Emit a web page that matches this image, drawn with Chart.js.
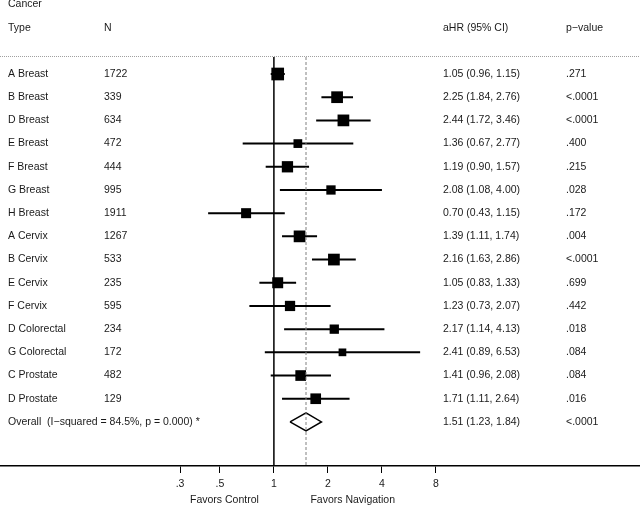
<!DOCTYPE html>
<html>
<head>
<meta charset="utf-8">
<script src="https://cdn.jsdelivr.net/npm/chart.js@4/dist/chart.umd.min.js"></script>
<style>
  body { margin: 0; background: #fff; }
</style>
</head>
<body>
<canvas id="forest" width="640" height="506"></canvas>
<script>
const estudios = ['A Breast', 'B Breast', 'D Breast', 'E Breast', 'F Breast', 'G Breast', 'H Breast',
  'A Cervix', 'B Cervix', 'E Cervix', 'F Cervix', 'D Colorectal', 'G Colorectal', 'C Prostate', 'D Prostate'];
const n = [1722, 339, 634, 472, 444, 995, 1911, 1267, 533, 235, 595, 234, 172, 482, 129];
const hr = [1.05, 2.25, 2.44, 1.36, 1.19, 2.08, 0.70, 1.39, 2.16, 1.05, 1.23, 2.17, 2.41, 1.41, 1.71];
const ciLow = [0.96, 1.84, 1.72, 0.67, 0.90, 1.08, 0.43, 1.11, 1.63, 0.83, 0.73, 1.14, 0.89, 0.96, 1.11];
const ciHigh = [1.15, 2.76, 3.46, 2.77, 1.57, 4.00, 1.15, 1.74, 2.86, 1.33, 2.07, 4.13, 6.53, 2.08, 2.64];
const pValues = ['.271', '<.0001', '<.0001', '.400', '.215', '.028', '.172', '.004', '<.0001', '.699', '.442', '.018', '.084', '.084', '.016'];
const pesos = [9.5, 8.1, 8.1, 4.5, 7.5, 5.1, 5.9, 8.1, 8.1, 7.1, 6.2, 5.1, 3.5, 6.7, 6.7];

const overallLabel = 'Overall  (I\u2212squared = 84.5%, p = 0.000) *';
const overall = [1.51, 1.23, 1.84];
const overallP = '<.0001';

const xTicks = [0.3, 0.5, 1, 2, 4, 8];
const xTickLabels = ['.3', '.5', '1', '2', '4', '8'];

// ---------------------------------------------------------------
const filaOverall = estudios.length;
const yMin = -0.733;
const yMax = 16.9;
const fuente = '10.5px "Liberation Sans", Arial, sans-serif';
const colorTexto = '#1a1a1a';

const cuadrados = hr.map((v, i) => ({ x: v, y: i }));
const radios = pesos.map(w => 4.12 * Math.sqrt(w) / Math.SQRT2);

const intervalos = [];
hr.forEach((v, i) => {
  intervalos.push({ x: ciLow[i], y: i }, { x: ciHigh[i], y: i }, { x: ciHigh[i], y: null });
});

const alto = 0.39;
const diamante = [
  { x: overall[1], y: filaOverall },
  { x: overall[0], y: filaOverall - alto },
  { x: overall[2], y: filaOverall },
  { x: overall[0], y: filaOverall + alto },
  { x: overall[1], y: filaOverall }
];

const textos = {
  id: 'textos',
  afterDraw(chart) {
    const ctx = chart.ctx;
    const ys = chart.scales.y;
    const xs = chart.scales.x;
    const area = chart.chartArea;
    ctx.save();

    ctx.strokeStyle = '#a0a0a0';
    ctx.lineWidth = 1;
    ctx.setLineDash([1, 1]);
    ctx.beginPath();
    ctx.moveTo(0, Math.round(area.top) - 0.5);
    ctx.lineTo(chart.width, Math.round(area.top) - 0.5);
    ctx.stroke();
    ctx.setLineDash([]);

    ctx.font = fuente;
    ctx.fillStyle = colorTexto;
    ctx.textBaseline = 'middle';
    ctx.textAlign = 'left';

    ctx.fillText('Cancer', 8, ys.getPixelForValue(-3));
    const yh = ys.getPixelForValue(-2);
    ctx.fillText('Type', 8, yh);
    ctx.fillText('N', 104, yh);
    ctx.fillText('aHR (95% CI)', 443, yh);
    ctx.fillText('p\u2212value', 566, yh);

    estudios.forEach((e, i) => {
      const y = ys.getPixelForValue(i);
      ctx.fillText(e, 8, y);
      ctx.fillText(String(n[i]), 104, y);
      ctx.fillText(hr[i].toFixed(2) + ' (' + ciLow[i].toFixed(2) + ', ' + ciHigh[i].toFixed(2) + ')', 443, y);
      ctx.fillText(pValues[i], 566, y);
    });

    const yo = ys.getPixelForValue(filaOverall);
    ctx.fillText(overallLabel, 8, yo);
    ctx.fillText(overall[0].toFixed(2) + ' (' + overall[1].toFixed(2) + ', ' + overall[2].toFixed(2) + ')', 443, yo);
    ctx.fillText(overallP, 566, yo);

    ctx.textAlign = 'center';
    ctx.fillText('Favors Control', xs.getPixelForValue(0.53), 500);
    ctx.fillText('Favors Navigation', xs.getPixelForValue(2.75), 500);
    ctx.restore();
  }
};

const forest = new Chart(document.getElementById('forest'), {
  type: 'scatter',
  data: {
    datasets: [
      {
        label: 'nulo',
        data: [{ x: 1, y: yMin }, { x: 1, y: yMax }],
        showLine: true,
        borderColor: '#000',
        borderWidth: 1.5,
        pointRadius: 0
      },
      {
        label: 'efecto global',
        data: [{ x: overall[0], y: yMin }, { x: overall[0], y: yMax }],
        showLine: true,
        borderColor: '#808080',
        borderWidth: 1,
        borderDash: [3, 2],
        pointRadius: 0
      },
      {
        label: 'IC 95%',
        data: intervalos,
        showLine: true,
        spanGaps: false,
        borderColor: '#000',
        borderWidth: 2,
        pointRadius: 0
      },
      {
        label: 'aHR',
        data: cuadrados,
        pointStyle: 'rect',
        pointRadius: radios,
        backgroundColor: '#000',
        borderColor: '#000',
        borderWidth: 0
      },
      {
        label: 'overall',
        data: diamante,
        showLine: true,
        borderColor: '#000',
        borderWidth: 1.5,
        backgroundColor: '#fff',
        pointRadius: 0,
        fill: false
      }
    ]
  },
  options: {
    responsive: false,
    animation: false,
    layout: { autoPadding: false, padding: { top: 57, left: 0, right: 0, bottom: 0 } },
    plugins: {
      legend: { display: false },
      tooltip: { enabled: false }
    },
    scales: {
      x: {
        type: 'logarithmic',
        min: 0.02976,
        max: 109.7,
        afterBuildTicks: s => { s.ticks = xTicks.map(v => ({ value: v })); },
        afterFit: s => { s.height = 40; },
        ticks: {
          autoSkip: false,
          maxRotation: 0,
          padding: 5,
          color: colorTexto,
          font: { family: '"Liberation Sans", Arial, sans-serif', size: 10.5 },
          callback: (v, i) => xTickLabels[i]
        },
        grid: {
          display: true,
          drawOnChartArea: false,
          drawTicks: true,
          tickLength: 7,
          color: '#000',
          lineWidth: 1
        },
        border: { display: true, color: '#000', width: 1.5 }
      },
      y: {
        type: 'linear',
        reverse: true,
        min: yMin,
        max: yMax,
        display: false
      }
    }
  },
  plugins: [textos]
});
</script>
</body>
</html>
